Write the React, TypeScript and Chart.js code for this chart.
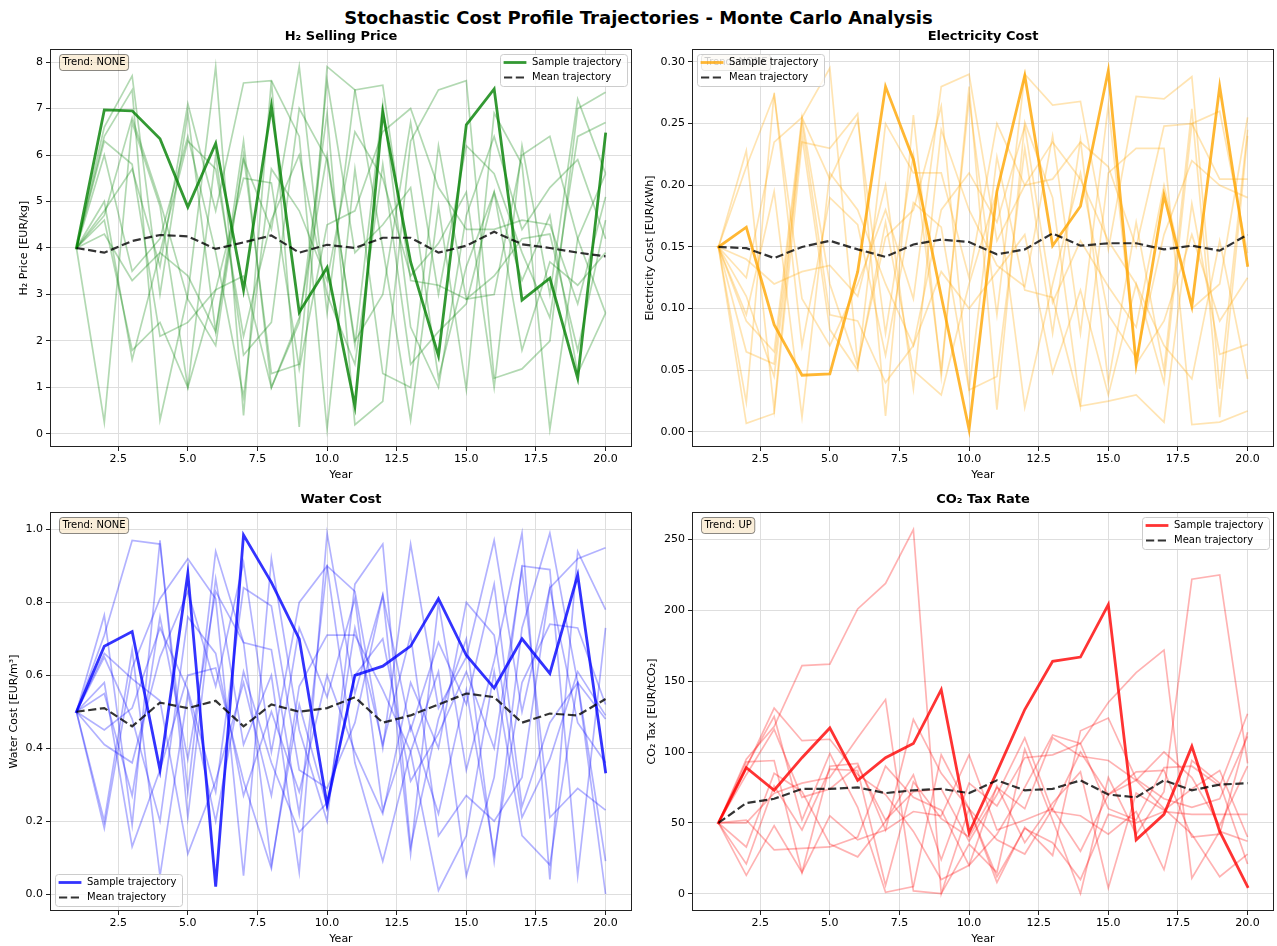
import React, { useEffect, useRef } from "react";
import { Chart, registerables } from "chart.js";

Chart.register(...registerables);

const FONT = '"DejaVu Sans", sans-serif';

const YEARS = [1, 2, 3, 4, 5, 6, 7, 8, 9, 10, 11, 12, 13, 14, 15, 16, 17, 18, 19, 20];
const X_TICKS = [2.5, 5, 7.5, 10, 12.5, 15, 17.5, 20];
const X_TICK_LABELS = ["2.5", "5.0", "7.5", "10.0", "12.5", "15.0", "17.5", "20.0"];

// ---------- H2 selling price ----------
const H2_SAMPLE = [4.0, 6.97, 6.95, 6.35, 4.88, 6.25, 3.1, 7.05, 2.62, 3.58, 0.6, 6.92, 3.7, 1.68, 6.65, 7.42, 2.88, 3.35, 1.2, 6.45];
const H2_MEAN = [4.0, 3.9, 4.15, 4.28, 4.25, 3.98, 4.12, 4.27, 3.9, 4.07, 4.0, 4.22, 4.22, 3.9, 4.05, 4.35, 4.08, 4.0, 3.9, 3.82];
const H2_PATHS = [
  [4.0, 6.6, 7.7, 3.0, 6.9, 2.2, 5.9, 4.4, 7.9, 2.6, 7.4, 7.5, 3.3, 3.2, 2.9, 3.0, 6.0, 6.4, 4.2, 2.6],
  [4.0, 0.25, 6.7, 4.9, 1.0, 3.1, 3.4, 1.0, 2.4, 6.9, 0.2, 0.7, 6.3, 7.4, 7.6, 1.2, 1.4, 2.0, 7.0, 7.35],
  [4.0, 6.4, 7.4, 0.3, 3.0, 7.9, 0.4, 7.6, 0.15, 7.9, 7.4, 4.0, 0.3, 4.9, 0.95, 6.9, 5.8, 0.1, 4.2, 5.6],
  [4.0, 4.8, 5.7, 3.6, 7.1, 4.8, 7.55, 7.6, 6.4, 0.1, 5.7, 1.3, 1.0, 6.2, 2.9, 3.4, 4.2, 4.3, 1.8, 4.6],
  [4.0, 4.6, 1.8, 2.4, 1.0, 6.0, 1.7, 2.4, 7.0, 5.9, 2.0, 3.0, 6.7, 3.0, 6.2, 5.6, 3.9, 2.5, 6.4, 6.7],
  [4.0, 6.3, 5.8, 2.1, 2.4, 3.1, 5.5, 5.4, 1.4, 4.5, 4.8, 6.5, 7.0, 5.3, 4.4, 4.4, 4.6, 4.5, 2.8, 5.1],
  [4.0, 4.3, 3.3, 3.9, 6.3, 5.7, 2.1, 4.6, 6.0, 3.0, 1.5, 5.8, 1.5, 2.2, 2.8, 5.2, 1.8, 3.7, 3.2, 3.9],
  [4.0, 4.7, 6.8, 5.0, 2.9, 1.9, 6.0, 1.3, 1.5, 7.6, 3.9, 4.5, 5.3, 1.2, 3.6, 5.2, 3.3, 4.7, 1.3, 2.6],
  [4.0, 5.0, 1.6, 3.9, 3.4, 2.2, 6.3, 1.0, 2.5, 6.0, 1.9, 7.1, 2.3, 1.0, 4.7, 6.4, 4.4, 5.3, 5.9, 4.2],
  [4.0, 6.0, 3.5, 4.2, 6.4, 3.9, 0.8, 5.7, 4.8, 3.3, 6.5, 5.5, 3.4, 4.1, 5.2, 1.0, 6.2, 3.0, 7.2, 5.6],
];
const H2_Y_TICKS = [0, 1, 2, 3, 4, 5, 6, 7, 8];
const H2_Y_LABELS = ["0", "1", "2", "3", "4", "5", "6", "7", "8"];

// ---------- Electricity cost ----------
const EL_SAMPLE = [0.15, 0.166, 0.087, 0.046, 0.047, 0.13, 0.28, 0.221, 0.11, 0.002, 0.195, 0.289, 0.151, 0.183, 0.293, 0.055, 0.192, 0.102, 0.28, 0.135];
const EL_MEAN = [0.15, 0.149, 0.141, 0.15, 0.155, 0.148, 0.142, 0.152, 0.156, 0.154, 0.144, 0.148, 0.161, 0.151, 0.153, 0.153, 0.148, 0.151, 0.147, 0.16];
const EL_PATHS = [
  [0.15, 0.228, 0.018, 0.255, 0.205, 0.253, 0.08, 0.225, 0.05, 0.27, 0.095, 0.29, 0.265, 0.268, 0.148, 0.272, 0.27, 0.288, 0.035, 0.245],
  [0.15, 0.215, 0.273, 0.108, 0.07, 0.12, 0.18, 0.108, 0.28, 0.29, 0.155, 0.2, 0.205, 0.235, 0.215, 0.15, 0.248, 0.25, 0.205, 0.205],
  [0.15, 0.007, 0.015, 0.235, 0.23, 0.258, 0.013, 0.257, 0.045, 0.28, 0.018, 0.251, 0.19, 0.021, 0.21, 0.23, 0.23, 0.006, 0.008, 0.017],
  [0.15, 0.125, 0.235, 0.255, 0.295, 0.055, 0.158, 0.18, 0.264, 0.034, 0.223, 0.115, 0.109, 0.021, 0.025, 0.03, 0.008, 0.185, 0.063, 0.071],
  [0.15, 0.095, 0.195, 0.012, 0.21, 0.18, 0.12, 0.07, 0.18, 0.21, 0.17, 0.248, 0.105, 0.155, 0.118, 0.085, 0.2, 0.1, 0.12, 0.255],
  [0.15, 0.11, 0.045, 0.24, 0.083, 0.05, 0.25, 0.21, 0.21, 0.125, 0.25, 0.2, 0.235, 0.205, 0.155, 0.12, 0.07, 0.043, 0.155, 0.043],
  [0.15, 0.024, 0.275, 0.07, 0.19, 0.168, 0.062, 0.186, 0.166, 0.034, 0.045, 0.23, 0.08, 0.237, 0.04, 0.17, 0.05, 0.262, 0.012, 0.24],
  [0.15, 0.065, 0.055, 0.25, 0.095, 0.09, 0.04, 0.07, 0.13, 0.1, 0.13, 0.16, 0.048, 0.115, 0.03, 0.12, 0.04, 0.25, 0.26, 0.145],
  [0.15, 0.09, 0.065, 0.255, 0.12, 0.053, 0.17, 0.05, 0.03, 0.12, 0.195, 0.02, 0.12, 0.21, 0.095, 0.06, 0.16, 0.22, 0.2, 0.19],
  [0.15, 0.14, 0.12, 0.13, 0.135, 0.11, 0.2, 0.035, 0.245, 0.18, 0.135, 0.118, 0.24, 0.08, 0.265, 0.055, 0.09, 0.16, 0.09, 0.125],
];
const EL_Y_TICKS = [0, 0.05, 0.1, 0.15, 0.2, 0.25, 0.3];
const EL_Y_LABELS = ["0.00", "0.05", "0.10", "0.15", "0.20", "0.25", "0.30"];

// ---------- Water cost ----------
const WA_SAMPLE = [0.5, 0.68, 0.72, 0.34, 0.88, 0.02, 0.985, 0.855, 0.7, 0.245, 0.6, 0.625, 0.68, 0.81, 0.655, 0.565, 0.7, 0.605, 0.875, 0.335];
const WA_MEAN = [0.5, 0.51, 0.46, 0.525, 0.51, 0.53, 0.46, 0.52, 0.5, 0.51, 0.54, 0.47, 0.49, 0.52, 0.55, 0.54, 0.47, 0.495, 0.49, 0.535];
const WA_PATHS = [
  [0.5, 0.765, 0.19, 0.97, 0.21, 0.865, 0.41, 0.6, 0.06, 0.99, 0.55, 0.82, 0.11, 0.8, 0.34, 0.64, 0.99, 0.04, 0.94, 0.78],
  [0.5, 0.71, 0.97, 0.96, 0.28, 0.94, 0.69, 0.67, 0.22, 0.9, 0.83, 0.4, 0.96, 0.51, 0.65, 0.97, 0.5, 0.84, 0.92, 0.95],
  [0.5, 0.18, 0.62, 0.81, 0.92, 0.81, 0.05, 0.92, 0.45, 0.2, 0.85, 0.96, 0.13, 0.48, 0.7, 0.09, 0.73, 0.99, 0.58, 0.0],
  [0.5, 0.41, 0.36, 0.65, 0.83, 0.57, 0.91, 0.39, 0.8, 0.9, 0.36, 0.09, 0.39, 0.61, 0.05, 0.32, 0.9, 0.89, 0.05, 0.73],
  [0.5, 0.58, 0.13, 0.34, 0.6, 0.62, 0.31, 0.07, 0.57, 0.71, 0.71, 0.56, 0.39, 0.01, 0.16, 0.61, 0.16, 0.08, 0.58, 0.48],
  [0.5, 0.66, 0.59, 0.53, 0.11, 0.31, 0.58, 0.27, 0.73, 0.54, 0.81, 0.23, 0.46, 0.22, 0.56, 0.11, 0.58, 0.74, 0.73, 0.52],
  [0.5, 0.45, 0.51, 0.73, 0.56, 0.28, 0.84, 0.79, 0.34, 0.29, 0.47, 0.82, 0.45, 0.69, 0.52, 0.85, 0.24, 0.47, 0.58, 0.09],
  [0.5, 0.65, 0.48, 0.2, 0.76, 0.66, 0.27, 0.5, 0.28, 0.6, 0.39, 0.22, 0.58, 0.4, 0.8, 0.71, 0.21, 0.37, 0.61, 0.49],
  [0.5, 0.2, 0.67, 0.05, 0.55, 0.2, 0.61, 0.36, 0.17, 0.25, 0.6, 0.7, 0.31, 0.44, 0.61, 0.4, 0.89, 0.21, 0.29, 0.23],
  [0.5, 0.55, 0.27, 0.76, 0.37, 0.83, 0.69, 0.08, 0.52, 0.24, 0.73, 0.41, 0.71, 0.16, 0.27, 0.2, 0.32, 0.84, 0.47, 0.36],
];
const WA_Y_TICKS = [0, 0.2, 0.4, 0.6, 0.8, 1.0];
const WA_Y_LABELS = ["0.0", "0.2", "0.4", "0.6", "0.8", "1.0"];

// ---------- CO2 tax ----------
const CO_SAMPLE = [50, 89, 73, 96, 117, 80, 96, 106, 144, 43, 86, 130, 164, 167, 204, 38, 56, 104, 44, 5];
const CO_MEAN = [50, 64, 67, 74, 74, 75, 71, 73, 74, 71, 80, 73, 74, 80, 70, 68, 80, 73, 77, 78];
const CO_PATHS = [
  [50, 95, 118, 161, 162, 201, 219, 257, 0, 60, 12, 46, 36, 10, 56, 50, 58, 56, 56, 56],
  [50, 13, 48, 15, 55, 38, 45, 58, 55, 98, 45, 52, 60, 30, 70, 86, 87, 40, 42, 114],
  [50, 50, 71, 78, 82, 110, 137, 2, 0, 35, 15, 102, 52, 0, 82, 42, 72, 222, 225, 92],
  [50, 89, 131, 108, 109, 84, 70, 44, 10, 20, 42, 75, 112, 106, 135, 156, 172, 11, 44, 37],
  [50, 93, 94, 15, 90, 92, 45, 123, 85, 60, 38, 28, 60, 100, 70, 80, 60, 42, 12, 28],
  [50, 33, 85, 72, 35, 26, 51, 84, 24, 78, 62, 96, 98, 106, 60, 52, 89, 90, 76, 127],
  [50, 21, 76, 45, 88, 87, 6, 79, 53, 40, 75, 60, 110, 97, 94, 80, 100, 82, 48, 90],
  [50, 90, 125, 52, 99, 61, 1, 5, 98, 60, 8, 47, 27, 115, 124, 81, 67, 61, 67, 111],
  [50, 84, 116, 68, 74, 90, 52, 72, 74, 37, 70, 110, 58, 55, 42, 58, 17, 94, 78, 21],
  [50, 52, 31, 32, 33, 40, 90, 68, 59, 20, 76, 36, 64, 86, 4, 71, 59, 74, 87, 40],
];
const CO_Y_TICKS = [0, 50, 100, 150, 200, 250];
const CO_Y_LABELS = ["0", "50", "100", "150", "200", "250"];

type PanelCfg = {
  title: string;
  yTitle: string;
  trend: string;
  rgb: string;
  sample: number[];
  mean: number[];
  paths: number[][];
  yTicks: number[];
  yLabels: string[];
  yMin: number;
  yMax: number;
  legend: "ur" | "ul" | "ll";
  x: number;
  y: number;
  w: number;
  h: number;
  padTop: number;
  padRight: number;
  xAxisH: number;
  yAxisW: number;
  yTitleOff: number;
};

const PANELS: PanelCfg[] = [
  {
    title: "H\u2082 Selling Price", yTitle: "H\u2082 Price [EUR/kg]", trend: "Trend: NONE", rgb: "0,128,0",
    sample: H2_SAMPLE, mean: H2_MEAN, paths: H2_PATHS, yTicks: H2_Y_TICKS, yLabels: H2_Y_LABELS,
    yMin: -0.28, yMax: 8.28, legend: "ur", x: 0, y: 26, w: 640, h: 460, padTop: 23, padRight: 8, xAxisH: 39, yAxisW: 50, yTitleOff: 26,
  },
  {
    title: "Electricity Cost", yTitle: "Electricity Cost [EUR/kWh]", trend: "Trend: NONE", rgb: "255,165,0",
    sample: EL_SAMPLE, mean: EL_MEAN, paths: EL_PATHS, yTicks: EL_Y_TICKS, yLabels: EL_Y_LABELS,
    yMin: -0.0122, yMax: 0.3105, legend: "ul", x: 640, y: 26, w: 637, h: 460, padTop: 23, padRight: 3, xAxisH: 39, yAxisW: 52, yTitleOff: 42,
  },
  {
    title: "Water Cost", yTitle: "Water Cost [EUR/m\u00b3]", trend: "Trend: NONE", rgb: "0,0,255",
    sample: WA_SAMPLE, mean: WA_MEAN, paths: WA_PATHS, yTicks: WA_Y_TICKS, yLabels: WA_Y_LABELS,
    yMin: -0.0466, yMax: 1.048, legend: "ll", x: 0, y: 488, w: 640, h: 458, padTop: 24, padRight: 8, xAxisH: 35, yAxisW: 50, yTitleOff: 36,
  },
  {
    title: "CO\u2082 Tax Rate", yTitle: "CO\u2082 Tax [EUR/tCO\u2082]", trend: "Trend: UP", rgb: "255,0,0",
    sample: CO_SAMPLE, mean: CO_MEAN, paths: CO_PATHS, yTicks: CO_Y_TICKS, yLabels: CO_Y_LABELS,
    yMin: -12.2, yMax: 269.4, legend: "ur", x: 640, y: 488, w: 637, h: 458, padTop: 24, padRight: 3, xAxisH: 35, yAxisW: 52, yTitleOff: 40,
  },
];

function roundRect(ctx: CanvasRenderingContext2D, x: number, y: number, w: number, h: number, r: number) {
  ctx.beginPath();
  ctx.moveTo(x + r, y);
  ctx.lineTo(x + w - r, y);
  ctx.arcTo(x + w, y, x + w, y + r, r);
  ctx.lineTo(x + w, y + h - r);
  ctx.arcTo(x + w, y + h, x + w - r, y + h, r);
  ctx.lineTo(x + r, y + h);
  ctx.arcTo(x, y + h, x, y + h - r, r);
  ctx.lineTo(x, y + r);
  ctx.arcTo(x, y, x + r, y, r);
  ctx.closePath();
}

function makeDecor(cfg: PanelCfg) {
  return {
    id: "decor",
    afterDraw(chart: any) {
      const ctx: CanvasRenderingContext2D = chart.ctx;
      const a = chart.chartArea;
      ctx.save();
      // frame
      ctx.strokeStyle = "#222";
      ctx.lineWidth = 1;
      ctx.strokeRect(Math.round(a.left) + 0.5, Math.round(a.top) + 0.5, Math.round(a.right - a.left) - 1, Math.round(a.bottom - a.top) - 1);
      // subplot title
      ctx.fillStyle = "#000";
      ctx.font = `bold 13px ${FONT}`;
      ctx.textAlign = "center";
      ctx.textBaseline = "middle";
      ctx.fillText(cfg.title, (a.left + a.right) / 2, a.top - 12);
      // x title
      ctx.font = `11px ${FONT}`;
      ctx.fillText("Year", (a.left + a.right) / 2, a.bottom + 28.5);
      // y title
      ctx.save();
      ctx.translate(a.left - cfg.yTitleOff, (a.top + a.bottom) / 2);
      ctx.rotate(-Math.PI / 2);
      ctx.fillText(cfg.yTitle, 0, 0);
      ctx.restore();
      // trend box
      ctx.font = `10px ${FONT}`;
      const tw = ctx.measureText(cfg.trend).width;
      const bx = Math.round(a.left + 9);
      const by = Math.round(a.top + 5);
      roundRect(ctx, bx + 0.5, by + 0.5, tw + 6, 16, 3);
      ctx.fillStyle = "rgba(245,222,179,0.5)";
      ctx.fill();
      ctx.strokeStyle = "rgba(0,0,0,0.45)";
      ctx.lineWidth = 1;
      ctx.stroke();
      ctx.fillStyle = "#000";
      ctx.textAlign = "left";
      ctx.textBaseline = "middle";
      ctx.fillText(cfg.trend, bx + 3.5, by + 8.5);
      // legend
      const labels = ["Sample trajectory", "Mean trajectory"];
      const lw = Math.max(...labels.map((l) => ctx.measureText(l).width));
      const W = Math.round(32 + lw + 6);
      const H = 32;
      let lx = 0;
      let ly = 0;
      if (cfg.legend === "ur") {
        lx = a.right - 5 - W;
        ly = a.top + 5;
      } else if (cfg.legend === "ul") {
        lx = a.left + 5;
        ly = a.top + 5;
      } else {
        lx = a.left + 5;
        ly = a.bottom - 5 - H;
      }
      lx = Math.round(lx);
      ly = Math.round(ly);
      roundRect(ctx, lx + 0.5, ly + 0.5, W, H, 3);
      ctx.fillStyle = "rgba(255,255,255,0.8)";
      ctx.fill();
      ctx.strokeStyle = "#cccccc";
      ctx.stroke();
      const r1 = ly + 8.5;
      const r2 = ly + 23.5;
      ctx.strokeStyle = `rgba(${cfg.rgb},0.8)`;
      ctx.lineWidth = 2.8;
      ctx.lineCap = "square";
      ctx.beginPath();
      ctx.moveTo(lx + 5, r1);
      ctx.lineTo(lx + 25, r1);
      ctx.stroke();
      ctx.strokeStyle = "rgba(0,0,0,0.8)";
      ctx.lineWidth = 2.2;
      ctx.lineCap = "butt";
      ctx.setLineDash([8.2, 3.6]);
      ctx.beginPath();
      ctx.moveTo(lx + 4, r2);
      ctx.lineTo(lx + 25, r2);
      ctx.stroke();
      ctx.setLineDash([]);
      ctx.fillStyle = "#000";
      ctx.fillText(labels[0], lx + 32, r1);
      ctx.fillText(labels[1], lx + 32, r2);
      ctx.restore();
    },
  };
}

function Panel({ cfg }: { cfg: PanelCfg }) {
  const ref = useRef<HTMLCanvasElement>(null);
  useEffect(() => {
    if (!ref.current) return;
    const pts = (arr: number[]) => YEARS.map((x, i) => ({ x, y: arr[i] }));
    const datasets: any[] = [
      {
        data: pts(cfg.mean),
        borderColor: "rgba(0,0,0,0.8)",
        borderWidth: 2.2,
        borderDash: [8.2, 3.6],
      },
      {
        data: pts(cfg.sample),
        borderColor: `rgba(${cfg.rgb},0.8)`,
        borderWidth: 2.8,
        borderCapStyle: "square",
      },
      ...cfg.paths.map((p) => ({
        data: pts(p),
        borderColor: `rgba(${cfg.rgb},0.3)`,
        borderWidth: 1.7,
      })),
    ];
    const gridCommon = {
      color: "#dedede",
      lineWidth: 1,
      tickColor: "#222",
      tickLength: 4,
      drawTicks: true,
    };
    const chart = new Chart(ref.current, {
      type: "line",
      data: { datasets },
      options: {
        animation: false,
        responsive: false,
        devicePixelRatio: 1,
        layout: { padding: { top: cfg.padTop, right: cfg.padRight, left: 0, bottom: 0 } },
        plugins: { legend: { display: false }, tooltip: { enabled: false }, title: { display: false } },
        elements: { point: { radius: 0 }, line: { tension: 0, fill: false } },
        scales: {
          x: {
            type: "linear",
            min: 0.05,
            max: 20.95,
            afterFit: (s: any) => {
              s.height = cfg.xAxisH;
            },
            afterBuildTicks: (s: any) => {
              s.ticks = X_TICKS.map((v) => ({ value: v }));
            },
            ticks: {
              callback: (_v: any, i: number) => X_TICK_LABELS[i],
              autoSkip: false,
              maxRotation: 0,
              padding: 2,
              color: "#000",
              font: { family: FONT, size: 11 },
            },
            grid: gridCommon,
            border: { display: false },
          },
          y: {
            type: "linear",
            min: cfg.yMin,
            max: cfg.yMax,
            afterFit: (s: any) => {
              s.width = cfg.yAxisW;
            },
            afterBuildTicks: (s: any) => {
              s.ticks = cfg.yTicks.map((v) => ({ value: v }));
            },
            ticks: {
              callback: (_v: any, i: number) => cfg.yLabels[i],
              autoSkip: false,
              padding: 3,
              color: "#000",
              font: { family: FONT, size: 11 },
            },
            grid: gridCommon,
            border: { display: false },
          },
        },
      } as any,
      plugins: [makeDecor(cfg)],
    });
    return () => chart.destroy();
  }, [cfg]);
  return (
    <canvas
      ref={ref}
      width={cfg.w}
      height={cfg.h}
      style={{ position: "absolute", left: cfg.x, top: cfg.y, width: cfg.w, height: cfg.h }}
    />
  );
}

export default function App() {
  return (
    <div style={{ position: "absolute", left: 0, top: 0, width: 1277, height: 946, background: "#fff", overflow: "hidden" }}>
      <div
        style={{
          position: "absolute",
          left: 0,
          top: 7,
          width: 1277,
          textAlign: "center",
          font: `bold 18px ${FONT}`,
          lineHeight: "22px",
          color: "#000",
        }}
      >
        Stochastic Cost Profile Trajectories - Monte Carlo Analysis
      </div>
      {PANELS.map((p, i) => (
        <Panel key={i} cfg={p} />
      ))}
    </div>
  );
}
